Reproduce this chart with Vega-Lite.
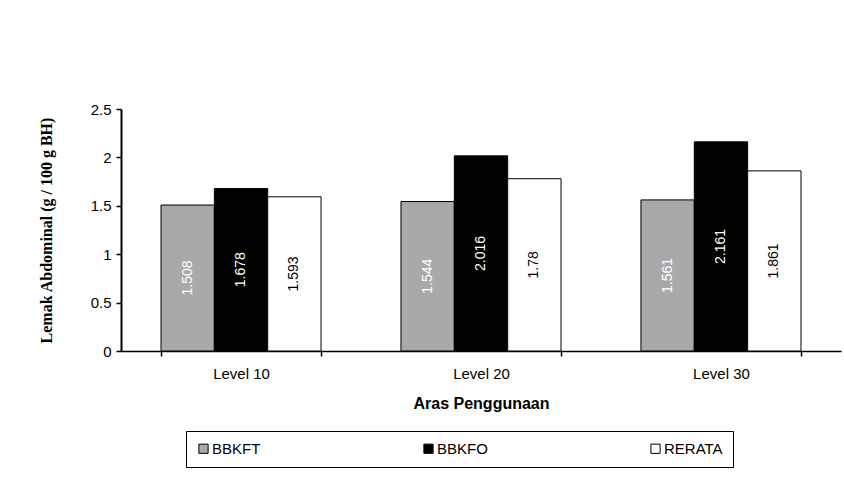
{
  "$schema": "https://vega.github.io/schema/vega-lite/v6.json",
  "autosize": "none",
  "width": 720,
  "height": 242,
  "padding": {"left": 121, "top": 109, "right": 3, "bottom": 135},
  "background": "white",
  "data": {
    "values": [
      {"level": "Level 10", "series": "BBKFT", "value": 1.508},
      {"level": "Level 10", "series": "BBKFO", "value": 1.678},
      {"level": "Level 10", "series": "RERATA", "value": 1.593},
      {"level": "Level 20", "series": "BBKFT", "value": 1.544},
      {"level": "Level 20", "series": "BBKFO", "value": 2.016},
      {"level": "Level 20", "series": "RERATA", "value": 1.78},
      {"level": "Level 30", "series": "BBKFT", "value": 1.561},
      {"level": "Level 30", "series": "BBKFO", "value": 2.161},
      {"level": "Level 30", "series": "RERATA", "value": 1.861}
    ]
  },
  "encoding": {
    "x": {
      "field": "level", "type": "nominal", "sort": null,
      "scale": {"paddingInner": 0.333, "paddingOuter": 0.1667},
      "axis": {
        "title": "Aras Penggunaan", "titleFont": "Liberation Sans", "titleFontSize": 16, "titleFontWeight": "bold",
        "titleColor": "black", "titlePadding": 14,
        "labelAngle": 0, "labelFont": "Liberation Sans", "labelFontSize": 15, "labelColor": "black",
        "labelPadding": 10,
        "domainColor": "black", "domainWidth": 1.5,
        "tickBand": "extent", "tickColor": "black", "tickSize": 5, "tickWidth": 1.5
      }
    },
    "xOffset": {"field": "series", "type": "nominal", "sort": ["BBKFT", "BBKFO", "RERATA"]}
  },
  "layer": [
    {
      "mark": {"type": "bar", "stroke": "black", "strokeWidth": 1},
      "encoding": {
        "y": {
          "field": "value", "type": "quantitative",
          "scale": {"domain": [0, 2.5]},
          "axis": {
            "title": "Lemak Abdominal (g / 100 g BH)", "titleFont": "Liberation Serif", "titleFontSize": 16,
            "titleFontWeight": "bold", "titleColor": "black", "titlePadding": 36,
            "values": [0, 0.5, 1, 1.5, 2, 2.5], "format": "~g",
            "labelFont": "Liberation Sans", "labelFontSize": 15, "labelColor": "black", "labelPadding": 5,
            "domainColor": "black", "domainWidth": 2, "tickColor": "black", "tickSize": 5, "tickWidth": 1.5,
            "grid": false
          }
        },
        "fill": {
          "field": "series", "type": "nominal",
          "sort": ["BBKFT", "BBKFO", "RERATA"],
          "scale": {"domain": ["BBKFT", "BBKFO", "RERATA"], "range": ["#a9a9a9", "#000000", "#ffffff"]},
          "legend": {
            "title": null, "orient": "none", "direction": "horizontal",
            "legendX": 65, "legendY": 322,
            "strokeColor": "black", "padding": 10,
            "symbolType": "square", "symbolSize": 85, "symbolStrokeColor": "black", "symbolStrokeWidth": 1,
            "labelFont": "Liberation Sans", "labelFontSize": 15, "labelColor": "black",
            "labelOffset": 1, "columnPadding": 160
          }
        }
      }
    },
    {
      "mark": {"type": "text", "angle": 270, "font": "Liberation Sans", "fontSize": 14, "align": "center", "baseline": "middle"},
      "encoding": {
        "y": {
          "field": "value", "type": "quantitative",
          "scale": {"domain": [0, 5]},
          "axis": null
        },
        "text": {"field": "value", "type": "quantitative"},
        "color": {
          "field": "series", "type": "nominal",
          "scale": {"domain": ["BBKFT", "BBKFO", "RERATA"], "range": ["#ffffff", "#ffffff", "#000000"]},
          "legend": null
        }
      }
    }
  ],
  "resolve": {"scale": {"color": "independent", "y": "independent"}},
  "config": {"view": {"stroke": null}}
}
